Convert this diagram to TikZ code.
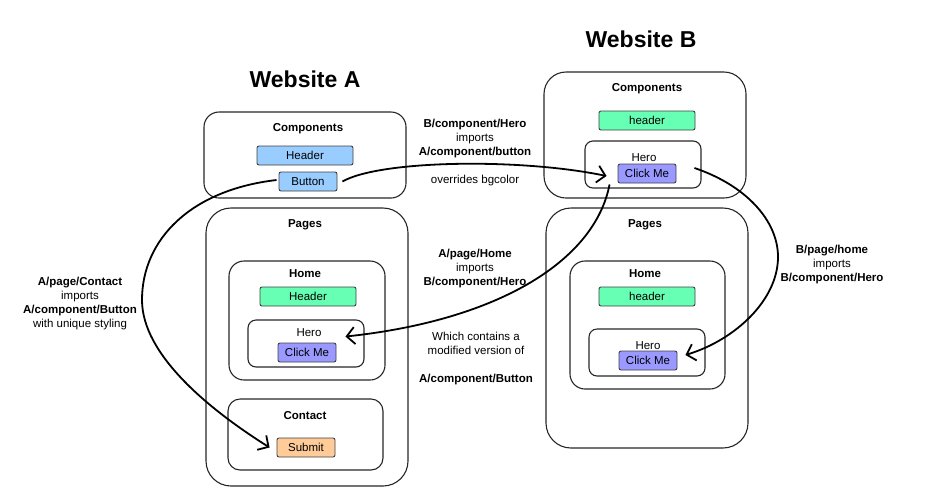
\documentclass[tikz,border=0pt]{standalone}
\usepackage{fontspec}
\setmainfont{Liberation Sans}
\usetikzlibrary{arrows.meta}
\definecolor{btnblue}{HTML}{99CCFF}
\definecolor{btngreen}{HTML}{66FFB3}
\definecolor{btnpurple}{HTML}{9999FF}
\definecolor{btnorange}{HTML}{FFCC99}
\tikzset{
  txt/.style={font=\fontsize{11.5}{14}\selectfont, inner sep=0pt, align=center, yshift=-1.5pt},
  heading/.style={font=\fontsize{23}{26}\selectfont\bfseries, inner sep=0pt},
  panel/.style={draw=black!85, line width=1.1pt, rounded corners=#1},
  panel/.default=15pt,
  btn/.style={draw=black!75, line width=0.9pt, rounded corners=2pt, fill=#1,
    minimum height=19pt, inner sep=0pt, font=\fontsize{11.5}{14}\selectfont},
  widebtn/.style={btn=#1, minimum width=96pt},
  smallbtn/.style={btn=#1, minimum width=58pt},
  link/.style={line width=1.8pt, -{Straight Barb[length=8pt,width=17pt]}}
}
\begin{document}
\begin{tikzpicture}[x=1pt,y=-1pt]
\useasboundingbox (0,0) rectangle (925,496);

\draw (305,79) node[heading] (titleA) {Website A};
\draw (641,39) node[heading] (titleB) {Website B};

\draw (305,155) node[panel, minimum width=202pt, minimum height=86pt] (acomp) {};
\draw (307,347) node[panel=25pt, minimum width=202pt, minimum height=278pt] (apages) {};
\draw (307,320.5) node[panel, minimum width=156pt, minimum height=119pt] (ahome) {};
\draw (306,343.5) node[panel=8pt, minimum width=116pt, minimum height=47pt] (ahero) {};
\draw (305.5,434.5) node[panel=12pt, minimum width=155pt, minimum height=71pt] (acontact) {};

\draw (645,135) node[panel=22pt, minimum width=202pt, minimum height=126pt] (bcomp) {};
\draw (643,164.5) node[panel=8pt, minimum width=116pt, minimum height=47pt] (bhero) {};
\draw (647,328) node[panel=25pt, minimum width=202pt, minimum height=240pt] (bpages) {};
\draw (647.5,325) node[panel, minimum width=155pt, minimum height=128pt] (bhome) {};
\draw (647,352.5) node[panel=8pt, minimum width=116pt, minimum height=47pt] (bhomehero) {};

\draw (308,127) node[txt] (acomplabel) {\textbf{Components}};
\draw (305,223) node[txt] (apageslabel) {\textbf{Pages}};
\draw (305,272) node[txt] (ahomelabel) {\textbf{Home}};
\draw (309,331) node[txt] (aherolabel) {Hero};
\draw (305,414) node[txt] (acontactlabel) {\textbf{Contact}};
\draw (647,87) node[txt] (bcomplabel) {\textbf{Components}};
\draw (644,156) node[txt] (bherolabel) {Hero};
\draw (645,223) node[txt] (bpageslabel) {\textbf{Pages}};
\draw (645,272) node[txt] (bhomelabel) {\textbf{Home}};
\draw (648,344) node[txt] (bhomeherolabel) {Hero};

\draw (305,155.5) node[widebtn=btnblue] (aheader) {Header};
\draw (308,181.5) node[smallbtn=btnblue] (abutton) {Button};
\draw (308,296.5) node[widebtn=btngreen] (ahomeheader) {Header};
\draw (307,352.5) node[smallbtn=btnpurple] (aclick) {Click Me};
\draw (306,447.5) node[smallbtn=btnorange] (asubmit) {Submit};
\draw (647,120.5) node[widebtn=btngreen] (bheader) {header};
\draw (647,173.5) node[smallbtn=btnpurple] (bclick) {Click Me};
\draw (647,296.5) node[widebtn=btngreen] (bhomeheader) {header};
\draw (648,360.5) node[smallbtn=btnpurple] (bhomeclick) {Click Me};

\draw (475,137.5) node[txt] (noteheroimport) {\textbf{B/component/Hero}\\imports\\\textbf{A/component/button}};
\draw (475,179) node[txt] (notebgcolor) {overrides bgcolor};
\draw (475,267) node[txt] (notehomeimport) {\textbf{A/page/Home}\\imports\\\textbf{B/component/Hero}};
\draw (476,357) node[txt] (notemodified) {Which contains a\\modified version of\\[14pt]\textbf{A/component/Button}};
\draw (80,302) node[txt] (notecontact) {\textbf{A/page/Contact}\\imports\\\textbf{A/component/Button}\\with unique styling};
\draw (832,263) node[txt] (notebhome) {\textbf{B/page/home}\\imports\\\textbf{B/component/Hero}};

\draw[link] ([xshift=5pt]abutton.east) .. controls (380,160) and (520,158) .. ([xshift=-11pt,yshift=-2.5pt]bclick.west);
\draw[link] ([xshift=-2pt,yshift=1.5pt]abutton.west) .. controls (190,190) and (142,240) .. (142,300)
  .. controls (142,355) and (210,410) .. ([xshift=-7pt]asubmit.west);
\draw[link] ([xshift=-8pt,yshift=-1pt]bclick.south west) .. controls (595,260) and (500,320) .. ([xshift=9pt,yshift=6pt]aclick.north east);
\draw[link] ([xshift=18pt,yshift=5.5pt]bclick.east) .. controls (745,185) and (778,220) .. (778,257)
  .. controls (778,300) and (735,340) .. ([xshift=8pt,yshift=5.5pt]bhomeclick.east);
\end{tikzpicture}
\end{document}
